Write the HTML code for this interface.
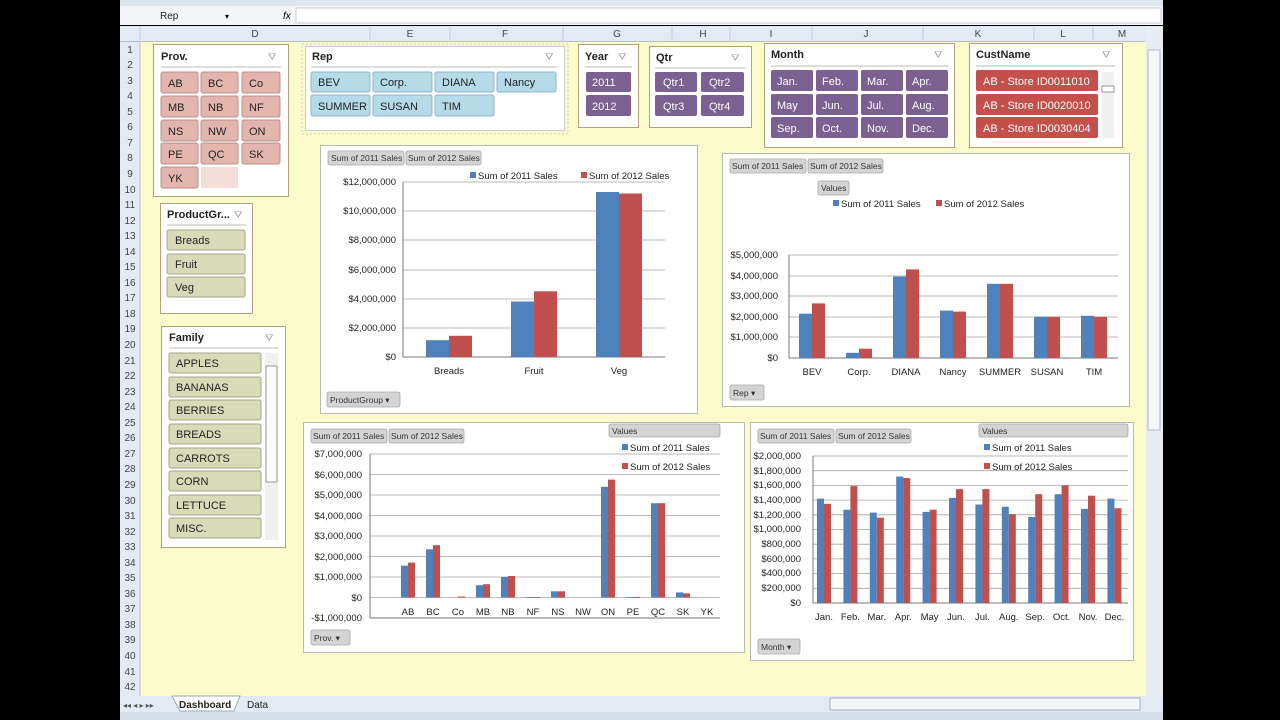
<!DOCTYPE html>
<html><head><meta charset="utf-8"><style>
html,body{margin:0;padding:0;background:#000;}
svg{display:block;font-family:"Liberation Sans",sans-serif;}
.s{font-size:11px;fill:#222}
.sh{font-size:11px;font-weight:bold;fill:#222}
.c{font-size:9.5px;fill:#222}
.r{font-size:10px;fill:#444;text-anchor:middle}
.pb{fill:#d4d4d4;stroke:#a8a8a8;stroke-width:.8}
.pt{font-size:8.5px;fill:#333}
.g{stroke:#a0a0a0;stroke-width:.8}
.b{fill:#4f81bd}.d{fill:#c0504d}
</style></head><body>
<svg width="1280" height="720" viewBox="0 0 1280 720" xmlns="http://www.w3.org/2000/svg">
<rect x="0" y="0" width="1280" height="720" fill="#000"/>
<!-- ribbon/formula -->
<rect x="120" y="0" width="1043" height="6" fill="#dde5ef"/>
<rect x="120" y="6" width="1043" height="19" fill="#f3f5f8"/>
<rect x="296" y="8" width="865" height="15" fill="#fff" stroke="#c5cdd8"/>
<text x="160" y="19" class="s" style="font-size:10px">Rep</text>
<text x="225" y="19" style="font-size:8px">▾</text>
<text x="283" y="19" style="font-size:10px;font-style:italic">fx</text>
<!-- column headers -->
<rect x="120" y="26" width="1043" height="16" fill="#e3eaf4"/>
<line x1="120" y1="41.5" x2="1145" y2="41.5" stroke="#b4bfcd"/>
<g stroke="#c3ccd8"><line x1="140" y1="26" x2="140" y2="42"/><line x1="370" y1="26" x2="370" y2="42"/><line x1="450" y1="26" x2="450" y2="42"/><line x1="563" y1="26" x2="563" y2="42"/><line x1="672" y1="26" x2="672" y2="42"/><line x1="730" y1="26" x2="730" y2="42"/><line x1="812" y1="26" x2="812" y2="42"/><line x1="923" y1="26" x2="923" y2="42"/><line x1="1034" y1="26" x2="1034" y2="42"/><line x1="1093" y1="26" x2="1093" y2="42"/></g>
<g class="r"><text x="255" y="37">D</text><text x="410" y="37">E</text><text x="505" y="37">F</text><text x="617" y="37">G</text><text x="703" y="37">H</text><text x="771" y="37">I</text><text x="866" y="37">J</text><text x="978" y="37">K</text><text x="1063" y="37">L</text><text x="1122" y="37">M</text></g>
<!-- sheet -->
<rect x="140" y="42" width="1006" height="654" fill="#fbfbcb"/>
<rect x="120" y="42" width="20" height="654" fill="#e3eaf4"/>
<line x1="140" y1="42" x2="140" y2="696" stroke="#b4bfcd"/>
<g class="r">
<text x="130" y="53">1</text><text x="130" y="68">2</text><text x="130" y="84">3</text><text x="130" y="99">4</text><text x="130" y="115">5</text><text x="130" y="130">6</text><text x="130" y="146">7</text><text x="130" y="161">8</text><text x="130" y="177">9</text><text x="130" y="193">10</text><text x="130" y="208">11</text><text x="130" y="224">12</text><text x="130" y="239">13</text><text x="130" y="255">14</text><text x="130" y="270">15</text><text x="130" y="286">16</text><text x="130" y="301">17</text><text x="130" y="317">18</text><text x="130" y="332">19</text><text x="130" y="348">20</text><text x="130" y="364">21</text><text x="130" y="379">22</text><text x="130" y="395">23</text><text x="130" y="410">24</text><text x="130" y="426">25</text><text x="130" y="441">26</text><text x="130" y="457">27</text><text x="130" y="472">28</text><text x="130" y="488">29</text><text x="130" y="504">30</text><text x="130" y="519">31</text><text x="130" y="535">32</text><text x="130" y="550">33</text><text x="130" y="566">34</text><text x="130" y="581">35</text><text x="130" y="597">36</text><text x="130" y="612">37</text><text x="130" y="628">38</text><text x="130" y="643">39</text><text x="130" y="659">40</text><text x="130" y="675">41</text><text x="130" y="690">42</text></g>
<!-- right scrollbar -->
<rect x="1146" y="26" width="17" height="670" fill="#e8edf4"/>
<rect x="1148" y="50" width="12" height="380" fill="#f6f8fb" stroke="#b0bac8"/>
<!-- bottom tabs/status -->
<rect x="120" y="696" width="1043" height="16" fill="#e3eaf4"/>
<text x="123" y="708" style="font-size:8px;fill:#555">◂◂ ◂ ▸ ▸▸</text>
<path d="M172 696 L180 711 L234 711 L240 696 Z" fill="#fff" stroke="#9aa"/>
<text x="179" y="708" class="s" style="font-weight:bold;font-size:10px">Dashboard</text>
<text x="247" y="708" class="s" style="font-size:10px">Data</text>
<rect x="830" y="698" width="310" height="12" fill="#f4f6f9" stroke="#aab"/>
<rect x="120" y="712" width="1043" height="8" fill="#d5dde8"/>
<rect x="0" y="0" width="120" height="720" fill="#000"/>

<!-- Prov slicer -->
<rect x="153.5" y="44.5" width="135" height="152" fill="#fff" stroke="#b6a07a"/>
<text x="161" y="60" class="sh">Prov.</text><text x="268" y="60" style="font-size:10px;fill:#999">⛛</text>
<line x1="161" y1="67" x2="281" y2="67" stroke="#bbb"/>
<g fill="#e3b5ae" stroke="#b99089">
<rect x="161" y="72" width="37" height="21" rx="2"/><rect x="201" y="72" width="37" height="21" rx="2"/><rect x="242" y="72" width="38" height="21" rx="2"/>
<rect x="161" y="96" width="37" height="21" rx="2"/><rect x="201" y="96" width="37" height="21" rx="2"/><rect x="242" y="96" width="38" height="21" rx="2"/>
<rect x="161" y="120" width="37" height="21" rx="2"/><rect x="201" y="120" width="37" height="21" rx="2"/><rect x="242" y="120" width="38" height="21" rx="2"/>
<rect x="161" y="143" width="37" height="21" rx="2"/><rect x="201" y="143" width="37" height="21" rx="2"/><rect x="242" y="143" width="38" height="21" rx="2"/>
<rect x="161" y="167" width="37" height="21" rx="2"/></g>
<rect x="201" y="167" width="37" height="21" rx="2" fill="#f4dcd8"/>
<g class="s"><text x="168" y="87">AB</text><text x="208" y="87">BC</text><text x="249" y="87">Co</text>
<text x="168" y="111">MB</text><text x="208" y="111">NB</text><text x="249" y="111">NF</text>
<text x="168" y="135">NS</text><text x="208" y="135">NW</text><text x="249" y="135">ON</text>
<text x="168" y="158">PE</text><text x="208" y="158">QC</text><text x="249" y="158">SK</text>
<text x="168" y="182">YK</text></g>

<!-- Rep slicer -->
<rect x="302" y="44" width="266" height="90" fill="none" stroke="#ccc" stroke-dasharray="2 2"/>
<rect x="305.5" y="46.5" width="259" height="84" fill="#fff" stroke="#ccc"/>
<text x="312" y="60" class="sh">Rep</text><text x="545" y="60" style="font-size:10px;fill:#999">⛛</text>
<line x1="311" y1="67" x2="557" y2="67" stroke="#bbb"/>
<g fill="#b5dbe8" stroke="#8fb6c4">
<rect x="311" y="72" width="59" height="20" rx="2"/><rect x="373" y="72" width="59" height="20" rx="2"/><rect x="435" y="72" width="59" height="20" rx="2"/><rect x="497" y="72" width="59" height="20" rx="2"/>
<rect x="311" y="95" width="59" height="21" rx="2"/><rect x="373" y="95" width="59" height="21" rx="2"/><rect x="435" y="95" width="59" height="21" rx="2"/></g>
<g class="s"><text x="318" y="86">BEV</text><text x="380" y="86">Corp.</text><text x="442" y="86">DIANA</text><text x="504" y="86">Nancy</text>
<text x="318" y="110">SUMMER</text><text x="380" y="110">SUSAN</text><text x="442" y="110">TIM</text></g>

<!-- Year -->
<rect x="578.5" y="44.5" width="60" height="83" fill="#fff" stroke="#b6a07a"/>
<text x="585" y="60" class="sh">Year</text><text x="618" y="60" style="font-size:10px;fill:#999">⛛</text>
<line x1="585" y1="67" x2="632" y2="67" stroke="#bbb"/>
<g fill="#7a6192"><rect x="586" y="72" width="45" height="20" rx="2"/><rect x="586" y="95" width="45" height="21" rx="2"/></g>
<g class="s" style="fill:#fff"><text x="592" y="86">2011</text><text x="592" y="110">2012</text></g>

<!-- Qtr -->
<rect x="649.5" y="46.5" width="102" height="81" fill="#fff" stroke="#b6a07a"/>
<text x="656" y="61" class="sh">Qtr</text><text x="731" y="61" style="font-size:10px;fill:#999">⛛</text>
<line x1="655" y1="68" x2="745" y2="68" stroke="#bbb"/>
<g fill="#7a6192"><rect x="655" y="72" width="42" height="20" rx="2"/><rect x="701" y="72" width="43" height="20" rx="2"/><rect x="655" y="95" width="42" height="21" rx="2"/><rect x="701" y="95" width="43" height="21" rx="2"/></g>
<g class="s" style="fill:#fff"><text x="663" y="86">Qtr1</text><text x="709" y="86">Qtr2</text><text x="663" y="110">Qtr3</text><text x="709" y="110">Qtr4</text></g>

<!-- Month -->
<rect x="764.5" y="43.5" width="190" height="104" fill="#fff" stroke="#b6a07a"/>
<text x="771" y="58" class="sh">Month</text><text x="934" y="58" style="font-size:10px;fill:#999">⛛</text>
<line x1="771" y1="66" x2="948" y2="66" stroke="#bbb"/>
<g fill="#7a6192">
<rect x="771" y="70" width="42" height="21" rx="2"/><rect x="816" y="70" width="42" height="21" rx="2"/><rect x="861" y="70" width="42" height="21" rx="2"/><rect x="906" y="70" width="42" height="21" rx="2"/>
<rect x="771" y="94" width="42" height="21" rx="2"/><rect x="816" y="94" width="42" height="21" rx="2"/><rect x="861" y="94" width="42" height="21" rx="2"/><rect x="906" y="94" width="42" height="21" rx="2"/>
<rect x="771" y="117" width="42" height="21" rx="2"/><rect x="816" y="117" width="42" height="21" rx="2"/><rect x="861" y="117" width="42" height="21" rx="2"/><rect x="906" y="117" width="42" height="21" rx="2"/></g>
<g class="s" style="fill:#fff"><text x="777" y="85">Jan.</text><text x="822" y="85">Feb.</text><text x="867" y="85">Mar.</text><text x="912" y="85">Apr.</text>
<text x="777" y="109">May</text><text x="822" y="109">Jun.</text><text x="867" y="109">Jul.</text><text x="912" y="109">Aug.</text>
<text x="777" y="132">Sep.</text><text x="822" y="132">Oct.</text><text x="867" y="132">Nov.</text><text x="912" y="132">Dec.</text></g>

<!-- CustName -->
<rect x="969.5" y="43.5" width="153" height="104" fill="#fff" stroke="#b6a07a"/>
<text x="976" y="58" class="sh">CustName</text><text x="1102" y="58" style="font-size:10px;fill:#999">⛛</text>
<line x1="976" y1="66" x2="1115" y2="66" stroke="#bbb"/>
<g fill="#c4504b"><rect x="976" y="70" width="122" height="21" rx="2"/><rect x="976" y="94" width="122" height="21" rx="2"/><rect x="976" y="117" width="122" height="21" rx="2"/></g>
<g class="s" style="fill:#fff"><text x="983" y="85">AB - Store ID0011010</text><text x="983" y="109">AB - Store ID0020010</text><text x="983" y="132">AB - Store ID0030404</text></g>
<rect x="1102" y="72" width="12" height="66" fill="#f0f0f0"/><rect x="1102" y="86" width="12" height="6" fill="#fff" stroke="#999"/>

<!-- ProductGroup -->
<rect x="160.5" y="203.5" width="92" height="110" fill="#fff" stroke="#b6a07a"/>
<text x="167" y="218" class="sh">ProductGr...</text><text x="234" y="218" style="font-size:10px;fill:#999">⛛</text>
<line x1="167" y1="225" x2="246" y2="225" stroke="#bbb"/>
<g fill="#d9dbb8" stroke="#a4a68c"><rect x="167" y="230" width="78" height="20" rx="2"/><rect x="167" y="254" width="78" height="20" rx="2"/><rect x="167" y="277" width="78" height="20" rx="2"/></g>
<g class="s"><text x="175" y="244">Breads</text><text x="175" y="268">Fruit</text><text x="175" y="291">Veg</text></g>

<!-- Family -->
<rect x="161.5" y="326.5" width="124" height="221" fill="#fff" stroke="#b6a07a"/>
<text x="169" y="341" class="sh">Family</text><text x="265" y="341" style="font-size:10px;fill:#999">⛛</text>
<line x1="169" y1="348" x2="278" y2="348" stroke="#bbb"/>
<g fill="#d9dbb8" stroke="#a4a68c">
<rect x="169" y="353" width="92" height="20" rx="2"/><rect x="169" y="377" width="92" height="20" rx="2"/><rect x="169" y="400" width="92" height="20" rx="2"/><rect x="169" y="424" width="92" height="20" rx="2"/><rect x="169" y="448" width="92" height="20" rx="2"/><rect x="169" y="471" width="92" height="20" rx="2"/><rect x="169" y="495" width="92" height="20" rx="2"/><rect x="169" y="518" width="92" height="20" rx="2"/></g>
<g class="s"><text x="176" y="367">APPLES</text><text x="176" y="391">BANANAS</text><text x="176" y="414">BERRIES</text><text x="176" y="438">BREADS</text><text x="176" y="462">CARROTS</text><text x="176" y="485">CORN</text><text x="176" y="509">LETTUCE</text><text x="176" y="532">MISC.</text></g>
<rect x="265" y="353" width="13" height="187" fill="#f0f0f0"/><rect x="266" y="366" width="11" height="116" fill="#fafafa" stroke="#999"/>

<!-- Chart 1 -->
<rect x="320.5" y="145.5" width="377" height="268" fill="#fff" stroke="#b8b8b8"/>
<rect x="328" y="151" width="76" height="14" class="pb" rx="2"/><text x="331" y="161" class="pt">Sum of 2011 Sales</text>
<rect x="406" y="151" width="75" height="14" class="pb" rx="2"/><text x="408" y="161" class="pt">Sum of 2012 Sales</text>
<rect x="470" y="172" width="6" height="6" class="b"/><text x="478" y="179" class="c">Sum of 2011 Sales</text>
<rect x="581" y="172" width="6" height="6" class="d"/><text x="589" y="179" class="c">Sum of 2012 Sales</text>
<g class="g"><line x1="403" y1="182" x2="665" y2="182"/><line x1="403" y1="211" x2="665" y2="211"/><line x1="403" y1="240" x2="665" y2="240"/><line x1="403" y1="270" x2="665" y2="270"/><line x1="403" y1="299" x2="665" y2="299"/><line x1="403" y1="328" x2="665" y2="328"/></g>
<line x1="403" y1="357" x2="665" y2="357" stroke="#777"/><line x1="403" y1="182" x2="403" y2="357" stroke="#777"/>
<g class="c" text-anchor="end"><text x="396" y="185">$12,000,000</text><text x="396" y="214">$10,000,000</text><text x="396" y="243">$8,000,000</text><text x="396" y="273">$6,000,000</text><text x="396" y="302">$4,000,000</text><text x="396" y="331">$2,000,000</text><text x="396" y="360">$0</text></g>
<rect x="426" y="340.2" width="23" height="16.8" class="b"/><rect x="449" y="335.8" width="23" height="21.2" class="d"/>
<rect x="511" y="301.5" width="23" height="55.5" class="b"/><rect x="534" y="291.3" width="23" height="65.7" class="d"/>
<rect x="596" y="192" width="23" height="165" class="b"/><rect x="619" y="193.5" width="23" height="163.5" class="d"/>
<g class="c" text-anchor="middle"><text x="449" y="374">Breads</text><text x="534" y="374">Fruit</text><text x="619" y="374">Veg</text></g>
<rect x="327" y="392" width="73" height="15" class="pb" rx="2"/><text x="330" y="403" class="pt">ProductGroup ▾</text>

<!-- Chart 2 -->
<rect x="722.5" y="153.5" width="407" height="253" fill="#fff" stroke="#b8b8b8"/>
<rect x="730" y="159" width="76" height="14" class="pb" rx="2"/><text x="732" y="169" class="pt">Sum of 2011 Sales</text>
<rect x="808" y="159" width="75" height="14" class="pb" rx="2"/><text x="810" y="169" class="pt">Sum of 2012 Sales</text>
<rect x="818" y="181" width="31" height="14" class="pb" rx="2"/><text x="821" y="191" class="pt">Values</text>
<rect x="833" y="200" width="6" height="6" class="b"/><text x="841" y="207" class="c">Sum of 2011 Sales</text>
<rect x="936" y="200" width="6" height="6" class="d"/><text x="944" y="207" class="c">Sum of 2012 Sales</text>
<g class="g"><line x1="789" y1="255" x2="1118" y2="255"/><line x1="789" y1="276" x2="1118" y2="276"/><line x1="789" y1="296" x2="1118" y2="296"/><line x1="789" y1="317" x2="1118" y2="317"/><line x1="789" y1="337" x2="1118" y2="337"/></g>
<line x1="789" y1="358" x2="1118" y2="358" stroke="#777"/><line x1="789" y1="255" x2="789" y2="358" stroke="#777"/>
<g class="c" text-anchor="end"><text x="778" y="258">$5,000,000</text><text x="778" y="279">$4,000,000</text><text x="778" y="299">$3,000,000</text><text x="778" y="320">$2,000,000</text><text x="778" y="340">$1,000,000</text><text x="778" y="361">$0</text></g>
<rect x="799" y="313.7" width="13" height="44.3" class="b"/><rect x="812" y="303.4" width="13" height="54.6" class="d"/>
<rect x="846" y="352.8" width="13" height="5.2" class="b"/><rect x="859" y="348.7" width="13" height="9.3" class="d"/>
<rect x="893" y="254.6" width="13" height="81.4" class="b" transform="translate(0,22)"/><rect x="906" y="269.4" width="13" height="88.6" class="d"/>
<rect x="940" y="310.6" width="13" height="47.4" class="b"/><rect x="953" y="311.6" width="13" height="46.4" class="d"/>
<rect x="987" y="283.8" width="13" height="74.2" class="b"/><rect x="1000" y="283.8" width="13" height="74.2" class="d"/>
<rect x="1034" y="316.8" width="13" height="41.2" class="b"/><rect x="1047" y="316.8" width="13" height="41.2" class="d"/>
<rect x="1081" y="315.8" width="13" height="42.2" class="b"/><rect x="1094" y="316.8" width="13" height="41.2" class="d"/>
<g class="c" text-anchor="middle"><text x="812" y="375">BEV</text><text x="859" y="375">Corp.</text><text x="906" y="375">DIANA</text><text x="953" y="375">Nancy</text><text x="1000" y="375">SUMMER</text><text x="1047" y="375">SUSAN</text><text x="1094" y="375">TIM</text></g>
<rect x="730" y="385" width="34" height="15" class="pb" rx="2"/><text x="733" y="396" class="pt">Rep ▾</text>

<!-- Chart 3 -->
<rect x="303.5" y="422.5" width="441" height="230" fill="#fff" stroke="#b8b8b8"/>
<rect x="311" y="429" width="76" height="14" class="pb" rx="2"/><text x="313" y="439" class="pt">Sum of 2011 Sales</text>
<rect x="389" y="429" width="75" height="14" class="pb" rx="2"/><text x="391" y="439" class="pt">Sum of 2012 Sales</text>
<rect x="609" y="424" width="111" height="13" class="pb" rx="2"/><text x="612" y="434" class="pt">Values</text>
<rect x="622" y="444" width="6" height="6" class="b"/><text x="630" y="451" class="c">Sum of 2011 Sales</text>
<rect x="622" y="463" width="6" height="6" class="d"/><text x="630" y="470" class="c">Sum of 2012 Sales</text>
<g class="g"><line x1="370" y1="454" x2="720" y2="454"/><line x1="370" y1="474.5" x2="720" y2="474.5"/><line x1="370" y1="495" x2="720" y2="495"/><line x1="370" y1="515.5" x2="720" y2="515.5"/><line x1="370" y1="536" x2="720" y2="536"/><line x1="370" y1="556.5" x2="720" y2="556.5"/><line x1="370" y1="577" x2="720" y2="577"/><line x1="370" y1="597.5" x2="720" y2="597.5"/></g>
<line x1="370" y1="618" x2="720" y2="618" stroke="#777"/><line x1="370" y1="454" x2="370" y2="618" stroke="#777"/>
<g class="c" text-anchor="end"><text x="362" y="457">$7,000,000</text><text x="362" y="478">$6,000,000</text><text x="362" y="498">$5,000,000</text><text x="362" y="519">$4,000,000</text><text x="362" y="539">$3,000,000</text><text x="362" y="560">$2,000,000</text><text x="362" y="580">$1,000,000</text><text x="362" y="601">$0</text><text x="362" y="621">-$1,000,000</text></g>
<rect x="401" y="565.7" width="7" height="31.8" class="b"/><rect x="408" y="562.6" width="7" height="34.9" class="d"/>
<rect x="426" y="549.3" width="7" height="48.2" class="b"/><rect x="433" y="545.2" width="7" height="52.3" class="d"/>
<rect x="458" y="596.5" width="7" height="1" class="d"/>
<rect x="476" y="585.2" width="7" height="12.3" class="b"/><rect x="483" y="584.2" width="7" height="13.3" class="d"/>
<rect x="501" y="577" width="7" height="20.5" class="b"/><rect x="508" y="576" width="7" height="21.5" class="d"/>
<rect x="526" y="597" width="7" height=".8" class="b"/><rect x="533" y="597" width="7" height=".8" class="d"/>
<rect x="551" y="591.3" width="7" height="6.2" class="b"/><rect x="558" y="591.3" width="7" height="6.2" class="d"/>
<rect x="601" y="486.8" width="7" height="110.7" class="b"/><rect x="608" y="479.6" width="7" height="117.9" class="d"/>
<rect x="626" y="597" width="7" height=".8" class="b"/><rect x="633" y="597" width="7" height=".8" class="d"/>
<rect x="651" y="503.2" width="7" height="94.3" class="b"/><rect x="658" y="503.2" width="7" height="94.3" class="d"/>
<rect x="676" y="592.4" width="7" height="5.1" class="b"/><rect x="683" y="593.4" width="7" height="4.1" class="d"/>
<g class="c" text-anchor="middle"><text x="408" y="615">AB</text><text x="433" y="615">BC</text><text x="458" y="615">Co</text><text x="483" y="615">MB</text><text x="508" y="615">NB</text><text x="533" y="615">NF</text><text x="558" y="615">NS</text><text x="583" y="615">NW</text><text x="608" y="615">ON</text><text x="633" y="615">PE</text><text x="658" y="615">QC</text><text x="683" y="615">SK</text><text x="707" y="615">YK</text></g>
<rect x="311" y="630" width="39" height="15" class="pb" rx="2"/><text x="314" y="641" class="pt">Prov. ▾</text>

<!-- Chart 4 -->
<rect x="750.5" y="422.5" width="383" height="238" fill="#fff" stroke="#b8b8b8"/>
<rect x="758" y="429" width="76" height="14" class="pb" rx="2"/><text x="760" y="439" class="pt">Sum of 2011 Sales</text>
<rect x="836" y="429" width="75" height="14" class="pb" rx="2"/><text x="838" y="439" class="pt">Sum of 2012 Sales</text>
<rect x="979" y="424" width="149" height="13" class="pb" rx="2"/><text x="982" y="434" class="pt">Values</text>
<rect x="984" y="444" width="6" height="6" class="b"/><text x="992" y="451" class="c">Sum of 2011 Sales</text>
<rect x="984" y="463" width="6" height="6" class="d"/><text x="992" y="470" class="c">Sum of 2012 Sales</text>
<g class="g"><line x1="813" y1="456" x2="1128" y2="456"/><line x1="813" y1="470.7" x2="1128" y2="470.7"/><line x1="813" y1="485.4" x2="1128" y2="485.4"/><line x1="813" y1="500.1" x2="1128" y2="500.1"/><line x1="813" y1="514.8" x2="1128" y2="514.8"/><line x1="813" y1="529.5" x2="1128" y2="529.5"/><line x1="813" y1="544.2" x2="1128" y2="544.2"/><line x1="813" y1="558.9" x2="1128" y2="558.9"/><line x1="813" y1="573.6" x2="1128" y2="573.6"/><line x1="813" y1="588.3" x2="1128" y2="588.3"/></g>
<line x1="813" y1="603" x2="1128" y2="603" stroke="#777"/><line x1="813" y1="456" x2="813" y2="603" stroke="#777"/>
<g class="c" text-anchor="end"><text x="801" y="459">$2,000,000</text><text x="801" y="474">$1,800,000</text><text x="801" y="488">$1,600,000</text><text x="801" y="503">$1,400,000</text><text x="801" y="518">$1,200,000</text><text x="801" y="532">$1,000,000</text><text x="801" y="547">$800,000</text><text x="801" y="562">$600,000</text><text x="801" y="576">$400,000</text><text x="801" y="591">$200,000</text><text x="801" y="606">$0</text></g>
<rect x="817" y="498.6" width="7" height="104.4" class="b"/><rect x="824" y="503.8" width="7" height="99.2" class="d"/>
<rect x="843.4" y="509.7" width="7" height="93.3" class="b"/><rect x="850.4" y="486.1" width="7" height="116.9" class="d"/>
<rect x="869.8" y="512.6" width="7" height="90.4" class="b"/><rect x="876.8" y="517.7" width="7" height="85.3" class="d"/>
<rect x="896.2" y="476.6" width="7" height="126.4" class="b"/><rect x="903.2" y="478" width="7" height="125" class="d"/>
<rect x="922.6" y="511.9" width="7" height="91.1" class="b"/><rect x="929.6" y="509.7" width="7" height="93.3" class="d"/>
<rect x="949" y="497.9" width="7" height="105.1" class="b"/><rect x="956" y="489.1" width="7" height="113.9" class="d"/>
<rect x="975.4" y="504.5" width="7" height="98.5" class="b"/><rect x="982.4" y="489.1" width="7" height="113.9" class="d"/>
<rect x="1001.8" y="506.7" width="7" height="96.3" class="b"/><rect x="1008.8" y="514.1" width="7" height="88.9" class="d"/>
<rect x="1028.2" y="517" width="7" height="86" class="b"/><rect x="1035.2" y="494.2" width="7" height="108.8" class="d"/>
<rect x="1054.6" y="494.2" width="7" height="108.8" class="b"/><rect x="1061.6" y="485.4" width="7" height="117.6" class="d"/>
<rect x="1081" y="508.9" width="7" height="94.1" class="b"/><rect x="1088" y="495.7" width="7" height="107.3" class="d"/>
<rect x="1107.4" y="498.6" width="7" height="104.4" class="b"/><rect x="1114.4" y="508.2" width="7" height="94.8" class="d"/>
<g class="c" text-anchor="middle"><text x="824" y="620">Jan.</text><text x="850.4" y="620">Feb.</text><text x="876.8" y="620">Mar.</text><text x="903.2" y="620">Apr.</text><text x="929.6" y="620">May</text><text x="956" y="620">Jun.</text><text x="982.4" y="620">Jul.</text><text x="1008.8" y="620">Aug.</text><text x="1035.2" y="620">Sep.</text><text x="1061.6" y="620">Oct.</text><text x="1088" y="620">Nov.</text><text x="1114.4" y="620">Dec.</text></g>
<rect x="758" y="639" width="42" height="15" class="pb" rx="2"/><text x="761" y="650" class="pt">Month ▾</text>
</svg>
</body></html>
